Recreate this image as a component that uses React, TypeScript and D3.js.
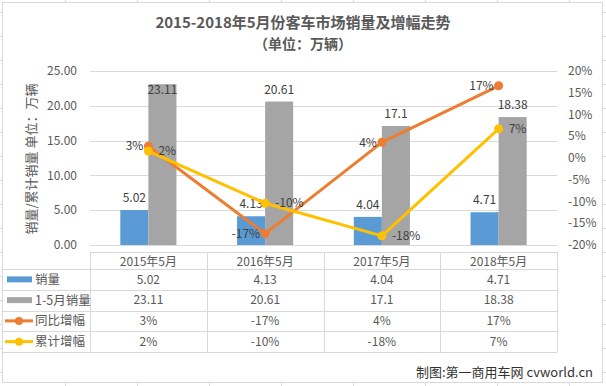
import React from 'react';
import * as d3 from 'd3';

// values
const categories = ['2015年5月', '2016年5月', '2017年5月', '2018年5月'];
const monthlySales = [5.02, 4.13, 4.04, 4.71];
const ytdSales = [23.11, 20.61, 17.1, 18.38];
const yoyGrowth = [2.7, -17.4, 3.6, 16.6];
const ytdGrowth = [1.6, -10.4, -17.9, 6.7];
const leftTicks = [0, 5, 10, 15, 20, 25];
const rightTicks = [-20, -15, -10, -5, 0, 5, 10, 15, 20];
const seriesNames = ['销量', '1-5月销量', '同比增幅', '累计增幅'];

const W = 606;
const H = 386;
const FONT = "'Noto Sans CJK SC', 'Noto Sans', sans-serif";
const TXT = '#595959';
const GRID = '#d9d9d9';
const COLORS = ['#5b9bd5', '#a5a5a5', '#ed7d31', '#ffc000'];

const pct = (v: number) => `${Math.round(v)}%`;

export default function App() {
  const plot = { left: 90, right: 557, top: 71, bottom: 245 };

  const x = d3.scaleBand<string>().domain(categories).range([plot.left, plot.right]).padding(0);
  const inner = d3.scaleBand<string>().domain(['a', 'b']).range([0, x.step()]).paddingInner(0).paddingOuter(1.08);
  const yL = d3.scaleLinear().domain([0, 25]).range([plot.bottom, plot.top]);
  const yR = d3.scaleLinear().domain([-20, 20]).range([plot.bottom, plot.top]);
  const cx = (c: string) => (x(c) as number) + x.step() / 2;

  const line = d3.line<number>().x((_, i) => cx(categories[i])).y(d => yR(d));

  // data table
  const tableTop = 252;
  const headerBottom = 269;
  const rowH = (352 - headerBottom) / 4;
  const rowY = (i: number) => headerBottom + i * rowH;
  const colEdges = [...categories.map(c => x(c) as number), plot.right];

  const tableRows = [
    monthlySales.map(String),
    ytdSales.map(String),
    yoyGrowth.map(pct),
    ytdGrowth.map(pct),
  ];

  // sheet grid behind the chart box
  const sheetCols = d3.range(65, W, 72);
  const sheetRows = d3.range(12, H, 24);

  const lineSeries = [
    { values: yoyGrowth, color: COLORS[2], side: 'left' },
    { values: ytdGrowth, color: COLORS[3], side: 'right' },
  ];

  return (
    <div style={{ position: 'absolute', left: 0, top: 0 }}>
      <svg width={W} height={H} style={{ display: 'block', fontFamily: FONT }}>
        <rect width={W} height={H} fill="#fff" />
        {sheetCols.map(c => (
          <line key={'sc' + c} x1={c + 0.5} x2={c + 0.5} y1={0} y2={H} stroke="#dadada" />
        ))}
        {sheetRows.map(r => (
          <line key={'sr' + r} x1={0} x2={W} y1={r + 0.5} y2={r + 0.5} stroke="#dadada" />
        ))}
        <rect x={2.5} y={2.5} width={600} height={380} fill="#fff" stroke={GRID} />

        {/* title */}
        <text x={W / 2} y={28} textAnchor="middle" fontSize={15} fontWeight="bold" fill={TXT}>
          2015-2018年5月份客车市场销量及增幅走势
        </text>
        <text x={W / 2} y={49} textAnchor="middle" fontSize={14} fontWeight="bold" fill={TXT}>
          （单位：万辆）
        </text>

        {/* gridlines */}
        {leftTicks.map(t => (
          <line key={'g' + t} x1={plot.left} x2={plot.right} y1={Math.round(yL(t)) + 0.5} y2={Math.round(yL(t)) + 0.5} stroke={GRID} />
        ))}

        {/* axes labels */}
        {leftTicks.map(t => (
          <text key={'l' + t} x={77} y={yL(t)} dy="0.35em" textAnchor="end" fontSize={12} fill={TXT}>
            {d3.format('.2f')(t)}
          </text>
        ))}
        {rightTicks.map(t => (
          <text key={'r' + t} x={568} y={yR(t)} dy="0.35em" textAnchor="start" fontSize={12} fill={TXT}>
            {`${t}%`}
          </text>
        ))}
        <text transform={`translate(31,159) rotate(-90)`} textAnchor="middle" dy="0.35em" fontSize={13} fill={TXT}>
          销量/累计销量 单位：万辆
        </text>

        {/* bars */}
        {categories.map((c, i) => (
          <g key={'b' + c}>
            {[monthlySales[i], ytdSales[i]].map((v, j) => {
              const bx = (x(c) as number) + (inner(j === 0 ? 'a' : 'b') as number);
              const top = yL(v);
              return (
                <g key={j}>
                  <rect x={bx} y={top} width={inner.bandwidth()} height={plot.bottom - top} fill={COLORS[j]} />
                  <text x={bx + inner.bandwidth() / 2} y={Math.max(top - 8, plot.top + 23)} textAnchor="middle" fontSize={12} fill="#404040">
                    {String(v)}
                  </text>
                </g>
              );
            })}
          </g>
        ))}

        {/* lines */}
        {lineSeries.map((s, k) => (
          <g key={'ls' + k}>
            <path d={line(s.values) as string} fill="none" stroke={s.color} strokeWidth={3} strokeLinejoin="round" />
            {s.values.map((v, i) => (
              <circle key={i} cx={cx(categories[i])} cy={yR(v)} r={4.5} fill={s.color} />
            ))}
          </g>
        ))}
        {lineSeries.map((s, k) =>
          s.values.map((v, i) => (
            <text
              key={'lt' + k + i}
              x={cx(categories[i]) + (s.side === 'left' ? -5 : 10)}
              y={yR(v)}
              dy="0.35em"
              textAnchor={s.side === 'left' ? 'end' : 'start'}
              fontSize={12}
              fill="#404040"
            >
              {pct(v)}
            </text>
          ))
        )}

        {/* data table */}
        <line x1={plot.left} x2={plot.right} y1={tableTop + 0.5} y2={tableTop + 0.5} stroke={GRID} />
        {d3.range(5).map(i => (
          <line key={'th' + i} x1={3} x2={plot.right} y1={Math.round(rowY(i)) + 0.5} y2={Math.round(rowY(i)) + 0.5} stroke={GRID} />
        ))}
        {colEdges.map((e, i) => (
          <line key={'tv' + i} x1={Math.round(e) + 0.5} x2={Math.round(e) + 0.5} y1={tableTop} y2={rowY(4)} stroke={GRID} />
        ))}
        {categories.map(c => (
          <text key={'h' + c} x={cx(c)} y={(tableTop + headerBottom) / 2 + 1} dy="0.35em" textAnchor="middle" fontSize={12} fill={TXT}>
            {c}
          </text>
        ))}
        {tableRows.map((row, r) => (
          <g key={'row' + r}>
            {r < 2 ? (
              <rect x={7} y={rowY(r) + rowH / 2 - 3} width={25} height={6} fill={COLORS[r]} />
            ) : (
              <g>
                <line x1={5} x2={33} y1={rowY(r) + rowH / 2} y2={rowY(r) + rowH / 2} stroke={COLORS[r]} strokeWidth={3} />
                <circle cx={19} cy={rowY(r) + rowH / 2} r={4} fill={COLORS[r]} />
              </g>
            )}
            <text x={35} y={rowY(r) + rowH / 2} dy="0.35em" fontSize={12.5} fill={TXT}>
              {seriesNames[r]}
            </text>
            {row.map((v, i) => (
              <text key={i} x={cx(categories[i])} y={rowY(r) + rowH / 2} dy="0.35em" textAnchor="middle" fontSize={12} fill={TXT}>
                {v}
              </text>
            ))}
          </g>
        ))}

        {/* source note */}
        <text x={593} y={377} textAnchor="end" fontSize={13} fill="#333">
          制图:第一商用车网 cvworld.cn
        </text>
      </svg>
    </div>
  );
}
